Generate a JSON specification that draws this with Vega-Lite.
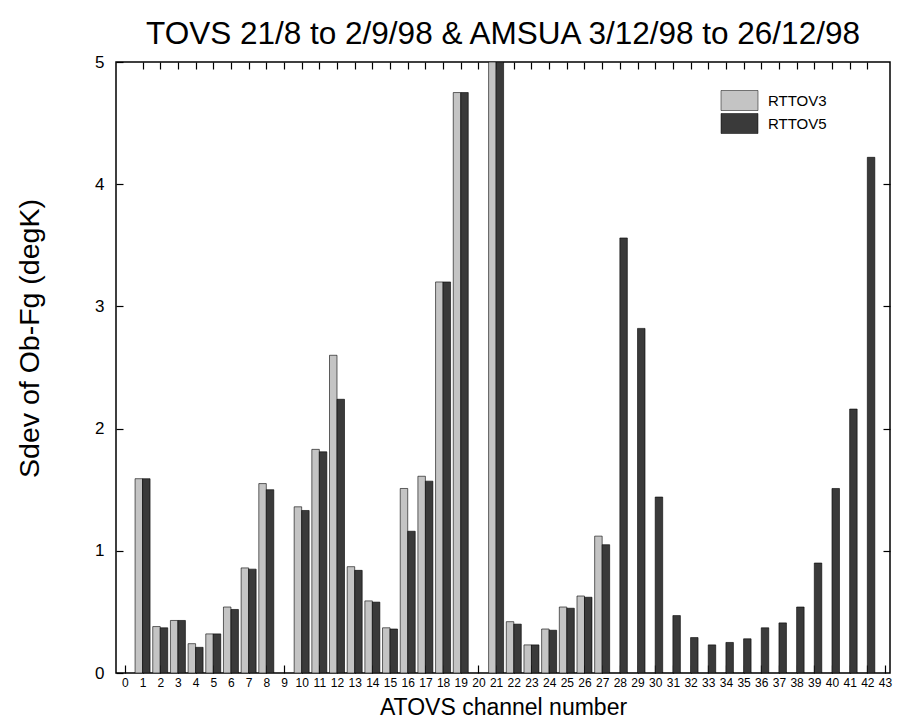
{
  "$schema": "https://vega.github.io/schema/vega-lite/v6.json",
  "autosize": "none",
  "padding": {"left": 116, "top": 62, "right": 12, "bottom": 49},
  "width": 774,
  "height": 611,
  "background": "white",
  "config": {
    "font": "Liberation Sans",
    "view": {"stroke": "black", "strokeWidth": 1.5},
    "axis": {"grid": false, "domain": false, "labelColor": "black", "titleColor": "black", "titleFontWeight": "normal"}
  },
  "title": {"text": "TOVS 21/8 to 2/9/98 & AMSUA 3/12/98 to 26/12/98", "fontSize": 31.5, "fontWeight": "normal", "font": "Liberation Sans", "anchor": "middle", "offset": 3, "color": "black"},
  "data": {"values": [
    {"channel": 1, "series": "RTTOV3", "sdev": 1.59},
    {"channel": 2, "series": "RTTOV3", "sdev": 0.38},
    {"channel": 3, "series": "RTTOV3", "sdev": 0.43},
    {"channel": 4, "series": "RTTOV3", "sdev": 0.24},
    {"channel": 5, "series": "RTTOV3", "sdev": 0.32},
    {"channel": 6, "series": "RTTOV3", "sdev": 0.54},
    {"channel": 7, "series": "RTTOV3", "sdev": 0.86},
    {"channel": 8, "series": "RTTOV3", "sdev": 1.55},
    {"channel": 10, "series": "RTTOV3", "sdev": 1.36},
    {"channel": 11, "series": "RTTOV3", "sdev": 1.83},
    {"channel": 12, "series": "RTTOV3", "sdev": 2.60},
    {"channel": 13, "series": "RTTOV3", "sdev": 0.87},
    {"channel": 14, "series": "RTTOV3", "sdev": 0.59},
    {"channel": 15, "series": "RTTOV3", "sdev": 0.37},
    {"channel": 16, "series": "RTTOV3", "sdev": 1.51},
    {"channel": 17, "series": "RTTOV3", "sdev": 1.61},
    {"channel": 18, "series": "RTTOV3", "sdev": 3.20},
    {"channel": 19, "series": "RTTOV3", "sdev": 4.75},
    {"channel": 21, "series": "RTTOV3", "sdev": 5.0},
    {"channel": 22, "series": "RTTOV3", "sdev": 0.42},
    {"channel": 23, "series": "RTTOV3", "sdev": 0.23},
    {"channel": 24, "series": "RTTOV3", "sdev": 0.36},
    {"channel": 25, "series": "RTTOV3", "sdev": 0.54},
    {"channel": 26, "series": "RTTOV3", "sdev": 0.63},
    {"channel": 27, "series": "RTTOV3", "sdev": 1.12},
    {"channel": 1, "series": "RTTOV5", "sdev": 1.59},
    {"channel": 2, "series": "RTTOV5", "sdev": 0.37},
    {"channel": 3, "series": "RTTOV5", "sdev": 0.43},
    {"channel": 4, "series": "RTTOV5", "sdev": 0.21},
    {"channel": 5, "series": "RTTOV5", "sdev": 0.32},
    {"channel": 6, "series": "RTTOV5", "sdev": 0.52},
    {"channel": 7, "series": "RTTOV5", "sdev": 0.85},
    {"channel": 8, "series": "RTTOV5", "sdev": 1.50},
    {"channel": 10, "series": "RTTOV5", "sdev": 1.33},
    {"channel": 11, "series": "RTTOV5", "sdev": 1.81},
    {"channel": 12, "series": "RTTOV5", "sdev": 2.24},
    {"channel": 13, "series": "RTTOV5", "sdev": 0.84},
    {"channel": 14, "series": "RTTOV5", "sdev": 0.58},
    {"channel": 15, "series": "RTTOV5", "sdev": 0.36},
    {"channel": 16, "series": "RTTOV5", "sdev": 1.16},
    {"channel": 17, "series": "RTTOV5", "sdev": 1.57},
    {"channel": 18, "series": "RTTOV5", "sdev": 3.20},
    {"channel": 19, "series": "RTTOV5", "sdev": 4.75},
    {"channel": 21, "series": "RTTOV5", "sdev": 5.0},
    {"channel": 22, "series": "RTTOV5", "sdev": 0.40},
    {"channel": 23, "series": "RTTOV5", "sdev": 0.23},
    {"channel": 24, "series": "RTTOV5", "sdev": 0.35},
    {"channel": 25, "series": "RTTOV5", "sdev": 0.53},
    {"channel": 26, "series": "RTTOV5", "sdev": 0.62},
    {"channel": 27, "series": "RTTOV5", "sdev": 1.05},
    {"channel": 28, "series": "RTTOV5", "sdev": 3.56},
    {"channel": 29, "series": "RTTOV5", "sdev": 2.82},
    {"channel": 30, "series": "RTTOV5", "sdev": 1.44},
    {"channel": 31, "series": "RTTOV5", "sdev": 0.47},
    {"channel": 32, "series": "RTTOV5", "sdev": 0.29},
    {"channel": 33, "series": "RTTOV5", "sdev": 0.23},
    {"channel": 34, "series": "RTTOV5", "sdev": 0.25},
    {"channel": 35, "series": "RTTOV5", "sdev": 0.28},
    {"channel": 36, "series": "RTTOV5", "sdev": 0.37},
    {"channel": 37, "series": "RTTOV5", "sdev": 0.41},
    {"channel": 38, "series": "RTTOV5", "sdev": 0.54},
    {"channel": 39, "series": "RTTOV5", "sdev": 0.90},
    {"channel": 40, "series": "RTTOV5", "sdev": 1.51},
    {"channel": 41, "series": "RTTOV5", "sdev": 2.16},
    {"channel": 42, "series": "RTTOV5", "sdev": 4.22}
  ]},
  "resolve": {"axis": {"x": "independent", "y": "independent"}},
  "layer": [
    {
      "transform": [{"filter": "datum.series === 'RTTOV3'"}],
      "mark": {"type": "bar", "size": 7.5, "xOffset": -3.75, "stroke": "black", "strokeWidth": 0.6, "clip": true},
      "encoding": {
        "x": {"field": "channel", "type": "quantitative",
              "scale": {"domain": [-0.22, 43], "nice": false, "zero": false},
              "axis": {"orient": "bottom", "offset": -8, "values": [0,1,2,3,4,5,6,7,8,9,10,11,12,13,14,15,16,17,18,19,20,21,22,23,24,25,26,27,28,29,30,31,32,33,34,35,36,37,38,39,40,41,42,43],
                       "tickSize": 8, "tickWidth": 1.2, "tickColor": "black", "labelFontSize": 12, "labelPadding": 4, "labelFlush": false, "labelOverlap": false, "labelBound": false,
                       "title": "ATOVS channel number", "titleFontSize": 23, "titlePadding": 8}},
        "y": {"field": "sdev", "type": "quantitative",
              "scale": {"domain": [0, 5], "nice": false},
              "axis": {"orient": "left", "offset": -7, "values": [0,1,2,3,4,5], "tickSize": 7, "tickWidth": 1.2, "tickColor": "black", "labelFontSize": 17, "labelPadding": 12, "labelFlush": false,
                       "title": "Sdev of Ob-Fg (degK)", "titleFontSize": 28.5, "titlePadding": 50, "titleY": 276}},
        "color": {"field": "series", "type": "nominal",
                  "scale": {"domain": ["RTTOV3", "RTTOV5"], "range": ["#c4c4c4", "#3a3a3a"]},
                  "legend": {"title": null, "orient": "none", "legendX": 613, "legendY": 28,
                             "symbolType": "M-1.85,-1H1.85V1H-1.85Z", "symbolSize": 400, "symbolStrokeColor": "black", "symbolStrokeWidth": 0.5,
                             "symbolOpacity": 1, "labelFontSize": 15, "labelOffset": 18, "rowPadding": 0, "labelColor": "black", "padding": 0}}
      }
    },
    {
      "transform": [{"filter": "datum.series === 'RTTOV5'"}],
      "mark": {"type": "bar", "size": 7.5, "xOffset": 3.75, "stroke": "black", "strokeWidth": 0.6, "clip": true},
      "encoding": {
        "x": {"field": "channel", "type": "quantitative",
              "axis": {"orient": "top", "offset": -7, "values": [1,2,3,4,5,6,7,8,9,10,11,12,13,14,15,16,17,18,19,20,21,22,23,24,25,26,27,28,29,30,31,32,33,34,35,36,37,38,39,40,41,42],
                       "tickSize": 7, "tickWidth": 1.2, "tickColor": "black", "labels": false, "title": null}},
        "y": {"field": "sdev", "type": "quantitative",
              "axis": {"orient": "right", "offset": -7, "values": [1,2,3,4], "tickSize": 7, "tickWidth": 1.2, "tickColor": "black", "labels": false, "title": null}},
        "color": {"field": "series", "type": "nominal"}
      }
    }
  ]
}
